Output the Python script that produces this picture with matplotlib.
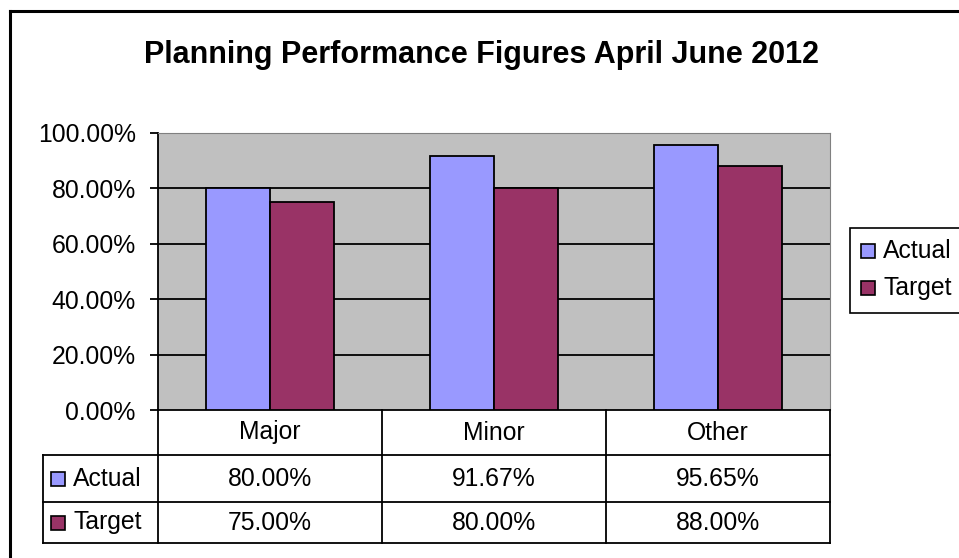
import matplotlib.pyplot as plt
import numpy as np
from matplotlib.patches import Rectangle
from matplotlib.lines import Line2D
from matplotlib.transforms import blended_transform_factory

categories = ['Major', 'Minor', 'Other']
series_names = ['Actual', 'Target']
actual = [80.00, 91.67, 95.65]
target = [75.00, 80.00, 88.00]
colors = ['#9999FF', '#993366']
title = 'Planning Performance Figures April June 2012'

W, H = 959, 558
plt.rcParams['font.family'] = ['Liberation Sans', 'DejaVu Sans']
fig = plt.figure(figsize=(W / 100, H / 100), dpi=100)
FS = 17.8


def fx(px):
    return px / W


def fy(py):
    return 1 - py / H


# plot area in pixel terms
L, R, T, B = 158, 830, 133, 410
ax = fig.add_axes([fx(L), fy(B), fx(R - L), fy(T) - fy(B)])
ax.set_facecolor('#C0C0C0')

x = np.arange(len(categories))
bw = 0.285
for i, (vals, c) in enumerate(zip([actual, target], colors)):
    ax.bar(x + (i - 0.5) * bw, np.array(vals) / 100, bw, color=c,
           edgecolor='black', linewidth=1.3, zorder=3)

ax.set_xlim(-0.5, len(categories) - 0.5)
ax.set_ylim(0, 1)
ax.set_yticks(np.arange(0, 1.01, 0.2))
ax.set_yticklabels([f'{v * 100:.2f}%' for v in np.arange(0, 1.01, 0.2)], fontsize=FS)
ax.set_xticks([])
for g in np.arange(0.2, 0.81, 0.2):
    ax.axhline(g, color='black', linewidth=1.3, zorder=2)
ax.tick_params(axis='y', direction='out', length=6, width=1.3, pad=10)
ax.spines['left'].set_linewidth(1.3)
ax.spines['bottom'].set_linewidth(1.3)
ax.spines['top'].set_color('#808080')
ax.spines['right'].set_color('#808080')

# data table under the axes
tr = blended_transform_factory(ax.transData, fig.transFigure)
rows_y = [410, 455, 502, 543]
edges = np.arange(-0.5, len(categories), 1.0)
for e in edges:
    fig.add_artist(Line2D([e, e], [fy(410), fy(543)], transform=tr, color='black', lw=1.3))
fig.add_artist(Line2D([fx(43), fx(43)], [fy(455), fy(543)], color='black', lw=1.3))
for yy in rows_y[1:]:
    fig.add_artist(Line2D([fx(43), fx(R)], [fy(yy), fy(yy)], color='black', lw=1.3))

for i, cat in enumerate(categories):
    fig.text(x[i], fy((410 + 455) / 2), cat, transform=tr, ha='center', va='center', fontsize=FS)
for r, (name, vals, c) in enumerate(zip(series_names, [actual, target], colors)):
    yc = fy((rows_y[r + 1] + rows_y[r + 2]) / 2)
    fig.add_artist(Rectangle((fx(51), yc - 7 / H), 14 / W, 14 / H, transform=fig.transFigure,
                             facecolor=c, edgecolor='black', lw=1.2))
    fig.text(fx(73), yc, name, ha='left', va='center', fontsize=FS)
    for i, v in enumerate(vals):
        fig.text(x[i], yc, f'{v:.2f}%', transform=tr, ha='center', va='center', fontsize=FS)

# legend box on the right
fig.add_artist(Rectangle((fx(850), fy(313)), fx(200), fy(228) - fy(313), transform=fig.transFigure,
                         facecolor='white', edgecolor='black', lw=1.2))
for r, (name, c) in enumerate(zip(series_names, colors)):
    yc = fy(251 + r * 37)
    fig.add_artist(Rectangle((fx(861), yc - 7 / H), 14 / W, 14 / H, transform=fig.transFigure,
                             facecolor=c, edgecolor='black', lw=1.2))
    fig.text(fx(883), yc, name, ha='left', va='center', fontsize=FS)

fig.text(fx(481), fy(55), title, ha='center', va='center', fontsize=22, fontweight='bold')

# chart border (only top and left are in view)
fig.add_artist(Line2D([fx(10), fx(10)], [0, fy(11)], color='black', lw=2.2))
fig.add_artist(Line2D([fx(10), 1], [fy(11), fy(11)], color='black', lw=2.2))

fig.savefig('out.png', dpi=100, facecolor='white')
